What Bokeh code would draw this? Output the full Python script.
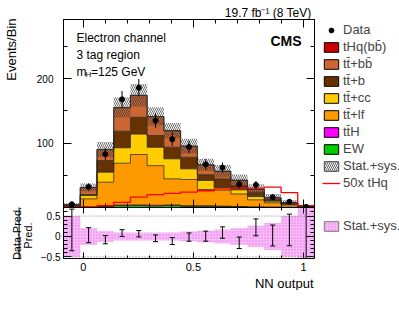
import numpy as np
from math import pi
from bokeh.plotting import figure
from bokeh.models import (Range1d, LinearAxis, FixedTicker, Label, Legend,
                          LegendItem, Span, Title, CustomLabelingPolicy)
from bokeh.layouts import column, row
from bokeh.embed import file_html
from bokeh.resources import INLINE

# ---------------- data ----------------
x_lo, x_hi = -0.09, 1.05
n_bins = 15

data_counts = [5, 32, 83, 168, 186, 135, 106, 94, 67, 62, 36, 35, 16, 9, 1]
data_err = [2.2, 5.7, 9.1, 13.0, 13.6, 11.6, 10.3, 9.7, 8.2, 7.9, 6.0, 5.9, 4.0, 3.0, 1.0]

bkg_ew = [0.3, 0.5, 1.0, 3.0, 3.0, 2.5, 3.0, 2.0, 2.0, 1.5, 1.0, 0.5, 0.3, 0.2, 0.1]
bkg_tth = [0.05, 0.2, 0.4, 0.8, 1.0, 1.0, 0.9, 0.8, 0.7, 0.6, 0.5, 0.4, 0.3, 0.2, 0.1]
bkg_tt_lf = [0.85, 12.8, 37.9, 65.0, 78.3, 61.5, 40.6, 40.7, 25.3, 24.9, 19.5, 11.0, 6.7, 3.6, 0.3]
bkg_tt_cc = [0.3, 5.1, 15.6, 23.9, 31.7, 28.6, 31.1, 16.5, 14.0, 4.0, 6.4, 5.1, 2.5, 1.0, 0.1]
bkg_tt_b = [1.5, 1.6, 18.1, 25.8, 26.0, 18.2, 18.0, 18.0, 9.0, 13.5, 6.6, 6.8, 2.6, 1.0, 0.2]
bkg_tt_bb = [1.3, 10.8, 17.0, 36.5, 34.0, 29.2, 25.4, 17.0, 15.0, 11.5, 8.0, 4.2, 2.6, 1.3, 0.2]
sig_thq = [0.01, 0.02, 0.06, 0.16, 0.32, 0.40, 0.44, 0.48, 0.52, 0.58, 0.60, 0.60, 0.63, 0.46, 0.06]
sig_scale = 50
rel_unc = [0.5, 0.2, 0.13, 0.1, 0.1, 0.1, 0.1, 0.12, 0.14, 0.17, 0.2, 0.26, 0.33, 0.5, 1.0]

main_y_ticks = [100, 200]
main_y_minor = [50, 150, 250]
x_ticks = [0, 0.5, 1.0]
ratio_y_ticks = [-0.5, 0, 0.5]
r_lo, r_hi = -0.54, 0.71
y_hi = 292

FONT = "Liberation Sans"

stack = [
    ("EW", bkg_ew, "#00cc00"),
    ("tt\u0304H", bkg_tth, "#ff00ff"),
    ("tt\u0304+lf", bkg_tt_lf, "#ff9900"),
    ("tt\u0304+cc", bkg_tt_cc, "#ffcc00"),
    ("tt\u0304+b", bkg_tt_b, "#663300"),
    ("tt\u0304+bb\u0304", bkg_tt_bb, "#cc6633"),
    ("tHq(bb\u0304)", sig_thq, "#cc0000"),
]

edges = np.linspace(x_lo, x_hi, n_bins + 1)
centers = 0.5 * (edges[:-1] + edges[1:])
data = np.array(data_counts, float)
derr = np.array(data_err, float)
rel = np.array(rel_unc, float)
NAN1 = np.array([np.nan])

LEFT_W = 33      # width of the strip holding the rotated axis titles
BORDER_L = 27    # tick-label border of the plots


def ext(a):
    a = list(a)
    return a + [a[-1]]


# page-pixel helpers for in-frame text placement only
def mx(px):
    return x_lo + (px - 60) * (x_hi - x_lo) / 251.0


def my(py):
    return (207 - py) * y_hi / 188.0


no_labels = CustomLabelingPolicy(code="return []")


def style_axis(ax, tin, minor_in, labels=True, size="10px", standoff=6):
    ax.major_tick_in = tin
    ax.major_tick_out = 0
    ax.minor_tick_in = minor_in
    ax.minor_tick_out = 0
    ax.axis_line_color = "black"
    ax.major_tick_line_color = "black"
    ax.minor_tick_line_color = "black"
    if labels:
        ax.major_label_text_font = FONT
        ax.major_label_text_font_size = size
        ax.major_label_text_color = "black"
        ax.major_label_standoff = standoff
    else:
        ax.major_label_policy = no_labels
        ax.major_label_text_font_size = "0px"
        ax.major_label_standoff = 0


def title(text, size="12px", align="center", standoff=0, offset=0):
    return Title(text=text, align=align, standoff=standoff, offset=offset, text_font=FONT,
                 text_font_size=size, text_font_style="normal", text_color="black")


def lab(fig, x, y, text, size="12px", align="left", style="normal", baseline="alphabetic", angle=0):
    fig.add_layout(Label(x=x, y=y, text=text, text_font=FONT, text_font_size=size,
                         text_align=align, text_baseline=baseline, angle=angle,
                         text_font_style=style, text_color="black"))


# ---------------- main panel ----------------
p = figure(frame_width=251, frame_height=188, x_range=Range1d(x_lo, x_hi), y_range=Range1d(0, y_hi),
           output_backend="svg", toolbar_location=None, tools="",
           title=title("19.7 fb\u207b\u00b9 (8 TeV)", size="12px", align="right", standoff=0, offset=3),
           min_border_left=BORDER_L, min_border_right=4, min_border_top=19, min_border_bottom=0)
p.grid.visible = False
p.outline_line_color = "black"

lower = np.zeros(n_bins)
for name, vals, col in stack:
    upper = lower + np.array(vals)
    p.varea_step(x=list(edges), y1=ext(lower), y2=ext(upper), step_mode="after", fill_color=col)
    lower = upper
total = lower.copy()

lower = np.zeros(n_bins)
for name, vals, col in stack:
    upper = lower + np.array(vals)
    p.step(x=list(edges), y=ext(upper), mode="after", line_color="#222222", line_alpha=0.75, line_width=1)
    lower = upper

# stat+sys hatched band
p.quad(left=edges[:-1], right=edges[1:], bottom=total * (1 - rel), top=total * (1 + rel),
       fill_color=None, line_color=None, hatch_pattern="\\", hatch_color="#333333",
       hatch_scale=4, hatch_weight=0.8, hatch_alpha=0.9)

# signal x50
p.step(x=list(edges), y=ext(np.array(sig_thq) * sig_scale), mode="after",
       line_color="#ff0000", line_width=1.3)

# data
p.segment(x0=centers, y0=data - derr, x1=centers, y1=data + derr, line_color="black", line_width=1)
p.scatter(centers, data, size=5, color="black")

xt = FixedTicker(ticks=x_ticks, minor_ticks=[round(v, 2) for v in np.arange(0, 1.01, 0.1)])
yt = FixedTicker(ticks=main_y_ticks, minor_ticks=main_y_minor)
p.xaxis.ticker = xt
p.yaxis.ticker = yt
style_axis(p.xaxis[0], 8, 4, labels=False)
style_axis(p.yaxis[0], 8, 4, labels=True, size="10px", standoff=10)
top_ax = LinearAxis(ticker=xt)
style_axis(top_ax, 8, 4, labels=False)
p.add_layout(top_ax, "above")
right_ax = LinearAxis(ticker=yt)
style_axis(right_ax, 8, 4, labels=False)
p.add_layout(right_ax, "right")

lab(p, mx(298), my(40.7), "CMS", size="14px", align="right", style="bold")
lab(p, mx(73), my(37.7), "Electron channel")
lab(p, mx(73), my(54.5), "3 tag region")
lab(p, mx(73), my(71), "m")
lab(p, mx(82), my(73.5), "H", size="8px")
lab(p, mx(87.5), my(71), "=125 GeV")

# ---------------- ratio panel ----------------
r = figure(frame_width=251, frame_height=51, x_range=p.x_range, y_range=Range1d(r_lo, r_hi),
           output_backend="svg", toolbar_location=None, tools="", title=None,
           min_border_left=BORDER_L, min_border_right=4, min_border_top=0, min_border_bottom=0)
r.grid.visible = False
r.outline_line_color = "black"

r.varea_step(x=list(edges), y1=ext(-rel), y2=ext(rel), step_mode="after",
             fill_color="#f4a2f4", hatch_pattern="+", hatch_color="white", hatch_alpha=0.45,
             hatch_scale=3, hatch_weight=0.5)
for loc in (0.5, -0.5):
    r.add_layout(Span(location=loc, dimension="width", line_color="#777777",
                      line_dash="1 2", line_width=1))

ratio = data / total - 1.0
rerr = derr / total
r.segment(x0=centers, y0=ratio - rerr, x1=centers, y1=ratio + rerr, line_color="black", line_width=1)
r.scatter(centers, ratio + rerr, marker="dash", size=5, line_color="black")
r.scatter(centers, ratio - rerr, marker="dash", size=5, line_color="black")

ryt = FixedTicker(ticks=ratio_y_ticks, minor_ticks=[round(v, 2) for v in np.arange(-0.5, 0.71, 0.1)])
r.xaxis.ticker = xt
r.yaxis.ticker = ryt
style_axis(r.xaxis[0], 6, 3, labels=True, size="11px", standoff=4)
style_axis(r.yaxis[0], 8, 4, labels=True, size="10px", standoff=3)
r.yaxis[0].major_label_overrides = {-0.5: "\u22120.5", 0: "0", 0.5: "0.5"}
r.xaxis[0].major_label_overrides = {0: "0", 0.5: "0.5", 1.0: "1"}
rtop = LinearAxis(ticker=xt)
style_axis(rtop, 6, 3, labels=False)
r.add_layout(rtop, "above")
rright = LinearAxis(ticker=ryt)
style_axis(rright, 8, 4, labels=False)
r.add_layout(rright, "right")
r.add_layout(title("NN output", size="13px", align="right", standoff=0, offset=1), "below")

# ---------------- left strip with rotated axis titles (page-pixel coordinates) ----------------
s = figure(width=LEFT_W, height=300, x_range=Range1d(0, LEFT_W), y_range=Range1d(300, 0),
           output_backend="svg", toolbar_location=None, tools="", title=None,
           x_axis_location=None, y_axis_location=None, min_border=0)
s.grid.visible = False
s.outline_line_color = None
lab(s, 3, 18, "Events/Bin", size="13px", align="right", baseline="top", angle=pi / 2)
lab(s, 16, 233, "Data-Pred.", size="11px", align="center", angle=pi / 2)
lab(s, 27, 235, "Pred.", size="11px", align="center", angle=pi / 2)
s.segment(x0=[18.6], y0=[207], x1=[18.6], y1=[259], line_color="black", line_width=1)

# ---------------- legend column ----------------
LEG_H = 293
q = figure(width=84, height=LEG_H, x_range=Range1d(0, 1), y_range=Range1d(0, 1),
           output_backend="svg", toolbar_location=None, tools="", title=None,
           x_axis_location=None, y_axis_location=None, min_border=0)
q.grid.visible = False
q.outline_line_color = None


def proxy_box(**kw):
    return q.quad(left=NAN1, right=NAN1, bottom=NAN1, top=NAN1, **kw)


items = [LegendItem(label="Data", renderers=[q.scatter(NAN1, NAN1, size=5, color="black")])]
for name, vals, col in reversed(stack):
    items.append(LegendItem(label=name, renderers=[proxy_box(fill_color=col, line_color="black", line_width=1)]))
items.append(LegendItem(label="Stat.+sys.", renderers=[
    proxy_box(fill_color="white", line_color="#444444", hatch_pattern="\\", hatch_color="#333333",
              hatch_scale=4, hatch_weight=0.8)]))
items.append(LegendItem(label="%dx tHq" % sig_scale, renderers=[
    q.line(np.array([np.nan, np.nan]), np.array([np.nan, np.nan]), line_color="#ff0000", line_width=1.3)]))

leg_style = dict(border_line_color=None, background_fill_alpha=0, glyph_width=18, glyph_height=12,
                 label_height=15, spacing=2, padding=0, margin=0, label_standoff=3,
                 label_text_font=FONT, label_text_font_size="13px")
q.add_layout(Legend(items=items, location=(4, 103), **leg_style))

pink_item = LegendItem(label="Stat.+sys.", renderers=[
    proxy_box(fill_color="#f4a2f4", line_color="#777777", hatch_pattern="+", hatch_color="white",
              hatch_alpha=0.45, hatch_scale=3, hatch_weight=0.5)])
q.add_layout(Legend(items=[pink_item], location=(4, 60), **leg_style))

layout = row(s, column(p, r), q)
open("out.html", "w").write(file_html(layout, INLINE))
